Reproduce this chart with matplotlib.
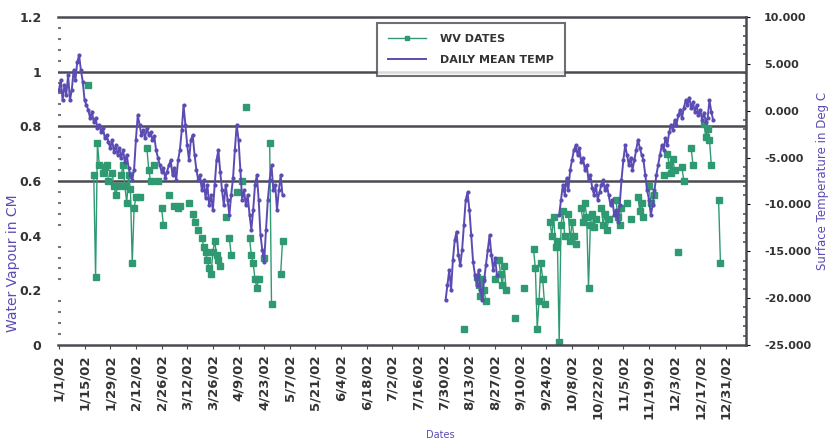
import numpy as np
import pandas as pd
import matplotlib
matplotlib.use('Agg')
import matplotlib.pyplot as plt
from matplotlib.lines import Line2D

plt.rcParams['font.family'] = ['DejaVu Sans']
plt.rcParams['font.weight'] = 'bold'

YEAR_START = pd.Timestamp('2002-01-01')

# water vapour (cm), day offset from 1 Jan 2002
wv_day = [16,
          19, 20, 21, 22,
          24, 25, 26, 27,
          29, 30, 31, 32,
          34, 35, 36, 37, 38, 39, 40, 41, 42,
          44, 48, 49, 50, 52, 54, 56, 57, 60, 63, 65, 66, 71, 73, 74, 76,
          78, 79, 80, 81, 82, 83, 84, 85, 86, 87, 88,
          91, 93, 94, 97, 100, 102,
          104, 105, 106, 107, 108, 109,
          112, 115, 116, 121, 122,
          221,
          228, 229, 230, 231, 232, 233,
          238, 240, 241, 242, 243, 244,
          249, 254,
          259, 260, 261, 262, 263, 264, 265,
          268, 269, 270, 271, 272, 273, 274, 275, 276,
          278, 279, 280, 281, 282,
          285, 286, 287, 288, 289, 290, 291, 292, 293,
          296, 297, 298, 299, 300,
          304, 305, 306, 307, 310, 312,
          316, 317, 318, 319, 322, 323, 325,
          330, 332, 333, 334, 335, 336, 338, 340, 341,
          345, 346, 352, 353, 354, 355, 356, 360, 361]
wv_val = [0.95,
          0.62, 0.25, 0.74, 0.66,
          0.63, 0.65, 0.66, 0.60,
          0.63, 0.58, 0.55, 0.58,
          0.62, 0.66, 0.58, 0.52, 0.62, 0.57, 0.30, 0.50, 0.54,
          0.54, 0.72, 0.64, 0.60, 0.66, 0.60, 0.50, 0.44, 0.55, 0.51, 0.50, 0.51, 0.52, 0.48, 0.45, 0.42,
          0.39, 0.36, 0.34, 0.31, 0.28, 0.26, 0.34, 0.38, 0.33, 0.31, 0.29,
          0.47, 0.39, 0.33, 0.56, 0.60, 0.87,
          0.39, 0.33, 0.30, 0.24, 0.21, 0.24,
          0.32, 0.74, 0.15, 0.26, 0.38,
          0.06,
          0.25, 0.22, 0.18, 0.24, 0.20, 0.16,
          0.24, 0.31, 0.26, 0.22, 0.29, 0.20,
          0.10, 0.21,
          0.35, 0.28, 0.06, 0.16, 0.30, 0.24, 0.15,
          0.45, 0.40, 0.47, 0.36, 0.38, 0.01, 0.44, 0.49, 0.40,
          0.48, 0.38, 0.45, 0.40, 0.37,
          0.50, 0.45, 0.52, 0.47, 0.21, 0.44, 0.48, 0.43, 0.46,
          0.50, 0.44, 0.48, 0.42, 0.46,
          0.53, 0.47, 0.44, 0.50, 0.52, 0.46,
          0.54, 0.49, 0.52, 0.47, 0.58, 0.52, 0.55,
          0.62, 0.70, 0.66, 0.63, 0.68, 0.64, 0.34, 0.65, 0.60,
          0.72, 0.66, 0.81, 0.76, 0.79, 0.75, 0.66, 0.53, 0.30]

# daily mean surface temperature (deg C), three recorded stretches
temp_winter_start = '2002-01-01'
temp_winter = [2.2, 3.3, 1.1, 2.7, 1.7, 3.8, 1.1, 2.2, 4.3, 3.3,
               5.2, 5.9, 4.3, 3.1, 1.1, 0.6, 0.1, -0.8, -0.1, -1.2,
               -0.8, -1.8, -1.5, -2.3, -1.8, -2.9, -2.6, -3.3, -4.0, -3.1,
               -4.4, -3.7, -4.7, -4.0, -5.0, -4.2, -5.5, -4.7, -6.1, -6.9,
               -7.4, -6.3, -3.1, -0.5, -1.5, -2.6, -2.1, -2.9, -1.8, -2.6,
               -2.3, -3.1, -2.7, -4.2, -5.0, -5.8, -6.5, -6.1, -7.2, -6.5,
               -5.8, -5.3, -6.9, -6.1, -7.4, -5.3, -4.2, -2.1, 0.6, -1.5,
               -3.7, -5.3, -3.1, -2.6, -4.7, -6.3, -7.4, -6.9, -8.5, -7.4,
               -9.3, -7.9, -10.1, -9.0, -10.6, -7.9, -5.3, -4.2, -6.5, -8.5,
               -10.1, -7.9, -9.5, -11.1, -9.0, -7.2, -4.2, -1.5, -3.1, -6.3,
               -9.5, -8.5, -10.1, -9.0, -11.1, -12.7, -10.6, -7.9, -6.9, -9.5,
               -13.3, -14.9, -16.1, -12.7, -9.5, -7.4, -5.8, -8.5, -7.9, -10.6,
               -8.5, -6.9, -9.0]

temp_summer_start = '2002-07-31'
temp_summer = [-20.2, -18.6, -17.0, -19.1, -15.9, -13.8, -12.9, -15.4, -16.5, -14.9,
               -12.2, -9.5, -8.7, -10.6, -13.3, -16.1, -17.5, -18.6, -17.0, -19.1,
               -20.2, -18.1, -16.5, -14.9, -13.3, -15.4, -17.0, -15.7, -17.5]

temp_autumn_start = '2002-10-01'
temp_autumn = [-11.1, -9.5, -7.9, -9.0, -7.2, -8.5, -6.3, -5.3, -4.2, -3.7,
               -4.7, -4.0, -5.5, -5.0, -6.3, -5.8, -7.4, -6.9, -8.2, -9.0,
               -7.9, -9.5, -8.7, -7.9, -7.4, -8.5, -7.9, -9.0, -10.1, -9.5,
               -11.1, -10.6, -11.9, -10.1, -7.4, -5.3, -3.7, -4.7, -5.8, -5.0,
               -6.3, -5.3, -4.2, -3.1, -4.0, -4.7, -5.3, -6.9, -8.5, -9.5,
               -11.1, -10.1, -8.5, -6.9, -5.8, -4.7, -3.7, -4.2, -2.9, -3.7,
               -2.3, -1.5, -2.1, -1.0, -1.5, -0.5, 0.1, -0.8, 0.3, 1.1,
               0.6, 1.4, 0.3, 0.9, -0.1, 0.6, -0.5, 0.1, -1.0, -0.2,
               -1.2, -0.8, 1.1, -0.1, -1.0]

tick_dates = pd.date_range('2002-01-01', '2002-12-31', freq='14D')

GREEN = '#2f9a72'
PURPLE = '#5a4cb2'
GRID = '#4a4a52'
TEXT = '#333333'


def runs(days, values):
    # split into consecutive-day stretches so gaps stay open
    out, cur_d, cur_v = [], [days[0]], [values[0]]
    for d, v in zip(days[1:], values[1:]):
        if d - cur_d[-1] == 1:
            cur_d.append(d)
            cur_v.append(v)
        else:
            out.append((cur_d, cur_v))
            cur_d, cur_v = [d], [v]
    out.append((cur_d, cur_v))
    return out


fig = plt.figure(figsize=(8.29, 4.46), dpi=100)
ax = fig.add_axes([0.070, 0.2265, 0.830, 0.7355])
ax2 = ax.twinx()

for rd, rv in runs(wv_day, wv_val):
    dates = YEAR_START + pd.to_timedelta(rd, unit='D')
    ax.plot(dates, rv, color=GREEN, lw=1.0, marker='s', ms=4.0, mec=GREEN, zorder=3)

for start, vals in [(temp_winter_start, temp_winter),
                    (temp_summer_start, temp_summer),
                    (temp_autumn_start, temp_autumn)]:
    dates = pd.date_range(start, periods=len(vals), freq='D')
    ax2.plot(dates, vals, color=PURPLE, lw=1.4, marker='o', ms=2.0, zorder=4)

for lvl in (0.6, 0.8, 1.0):
    ax.axhline(lvl, color=GRID, lw=1.8, zorder=1)

ax.set_xlim(YEAR_START - pd.Timedelta(days=0.5), YEAR_START + pd.Timedelta(days=375))
ax.set_ylim(0, 1.2)
ax2.set_ylim(-25, 10)

ax.set_yticks([0, 0.2, 0.4, 0.6, 0.8, 1.0, 1.2])
ax.set_yticklabels(['0', '0.2', '0.4', '0.6', '0.8', '1', '1.2'])
ax.set_yticks(np.arange(0, 1.21, 0.04), minor=True)
ax2.set_yticks(np.arange(-25, 10.1, 5))
ax2.set_yticklabels([f'{v:.3f}' for v in np.arange(-25, 10.1, 5)])
ax2.set_yticks(np.arange(-25, 10.1, 1), minor=True)

ax.set_xticks(tick_dates)
ax.set_xticklabels([f'{d.month}/{d.day}/{d:%y}' for d in tick_dates], rotation=90)

ax.tick_params(axis='x', labelsize=9.5, length=3, color=GRID, pad=4, labelcolor=TEXT)
ax.tick_params(axis='y', which='major', labelsize=9, length=0, pad=12, labelcolor=TEXT)
ax.tick_params(axis='y', which='minor', length=2, width=1.5, color='#777777', direction='in')
ax2.tick_params(axis='y', which='major', labelsize=8, length=3, pad=10, labelcolor=TEXT)
ax2.tick_params(axis='y', which='minor', length=2, width=1.2, color='#555555', direction='in')

for side in ('top', 'bottom', 'right'):
    ax2.spines[side].set_color(GRID)
    ax2.spines[side].set_linewidth(1.8)
ax2.spines['left'].set_visible(False)
for s in ax.spines.values():
    s.set_visible(False)

ax.set_ylabel('Water Vapour in CM', color=PURPLE, fontsize=10)
ax.yaxis.set_label_coords(-0.055, 0.25)
ax2.set_ylabel('Surface Temperature in Deg C', color=PURPLE, fontsize=8.5, rotation=90)
ax2.yaxis.set_label_coords(1.101, 0.5)
ax.set_xlabel('Dates', color=PURPLE, fontsize=7)
ax.xaxis.set_label_coords(0.555, -0.258)

handles = [Line2D([], [], color=GREEN, lw=1.0, marker='s', ms=3.5),
           Line2D([], [], color=PURPLE, lw=1.4)]
leg = ax2.legend(handles, ['WV DATES', 'DAILY MEAN TEMP'], loc='upper left',
                 bbox_to_anchor=(0.456, 1.0), fontsize=8, frameon=True, fancybox=False,
                 borderpad=1.0, handlelength=3.4, handletextpad=1.2, labelspacing=1.0)
leg.get_frame().set_edgecolor(GRID)
leg.get_frame().set_linewidth(1.5)
for t in leg.get_texts():
    t.set_color(TEXT)

fig.savefig('out.png', dpi=100)
